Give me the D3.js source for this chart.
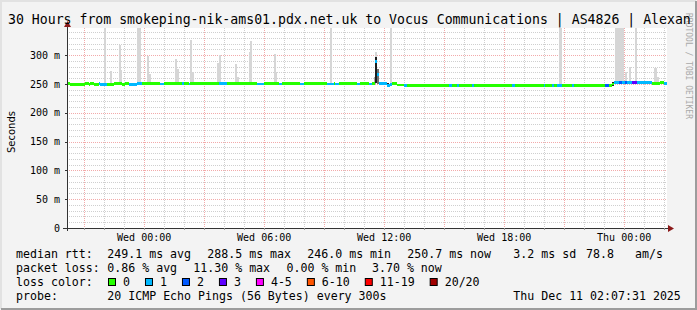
<!DOCTYPE html>
<html>
<head>
<meta charset="utf-8">
<script src="https://cdnjs.cloudflare.com/ajax/libs/d3/7.8.5/d3.min.js"></script>
<style>
body { margin: 0; background: #f3f3f3; }
svg { display: block; }
</style>
</head>
<body>
<svg class="smoke-chart"></svg>
<script>
var startTime = new Date(2025, 11, 9, 20, 10);
var endTime = new Date(2025, 11, 11, 2, 10);
var stepMinutes = 5;

// median rtt: [minutes after start, median ms, lost pings]
var medianRuns = [
	[0, 251, 0], [10, 249.5, 0], [55, 251, 0], [65, 249.5, 0], [70, 251, 0], [80, 249.5, 0],
	[95, 251, 1], [100, 249.5, 1], [120, 249.5, 0], [140, 251, 0], [165, 249.5, 0], [175, 251, 0],
	[185, 249.5, 1], [210, 251, 1], [225, 251, 0], [280, 250, 1], [290, 250.5, 0], [345, 250.5, 1],
	[350, 250.5, 0], [365, 250, 1], [370, 250.5, 0], [455, 250.5, 1], [480, 250.5, 0], [570, 250, 1],
	[590, 250.5, 0], [635, 250, 1], [645, 250.5, 0], [700, 250, 1], [710, 250.5, 0], [780, 250, 1],
	[800, 250.5, 0], [805, 250, 1], [815, 250.5, 0], [870, 250, 1], [880, 250.5, 0], [905, 250, 1],
	[915, 250.5, 0], [925, 288.5, 1], [930, 266, 1], [935, 250.5, 1], [960, 247.5, 1], [970, 249, 1],
	[975, 251, 0], [990, 248, 0], [1010, 246.8, 1], [1020, 246.8, 0], [1145, 246.8, 1], [1155, 246.8, 0],
	[1170, 246.8, 1], [1175, 246.8, 0], [1215, 246.8, 1], [1220, 246.8, 0], [1335, 246.8, 1], [1345, 246.8, 0],
	[1430, 246.8, 1], [1435, 246.8, 0], [1455, 246.8, 1], [1460, 246.8, 0], [1470, 246.8, 1], [1485, 246.8, 0],
	[1515, 246.8, 1], [1520, 246.8, 0], [1615, 246.8, 2], [1625, 246.8, 0], [1635, 250, 0], [1640, 252.5, 1],
	[1655, 252.5, 2], [1665, 252.5, 1], [1675, 252.5, 2], [1680, 252.5, 1], [1695, 252.5, 3], [1710, 252.5, 1],
	[1755, 250.5, 0], [1780, 252, 0], [1790, 251, 1]
];

// outlying pings (light smoke): minutes after start, highest ping ms
var smokeMinutes = [110, 130, 155, 160, 210, 215, 240, 245, 325, 330, 370, 375, 450, 455, 505, 510,
	545, 550, 620, 625, 790, 925, 970, 1475, 1480, 1645, 1650, 1655, 1660, 1665, 1675, 1685, 1705,
	1760, 1765, 1770];
var smokeTops = [400, 272, 317, 274, 400, 400, 298, 268, 293, 276, 326, 270, 286, 300, 284, 262,
	305, 324, 302, 270, 400, 306, 400, 400, 400, 400, 400, 400, 400, 400, 270, 279, 400,
	277, 277, 262];

// dense smoke: [minutes after start, low ms, high ms, density 1..3]
var denseSmoke = [[920, 250, 262, 1], [930, 250, 276, 2], [925, 252, 296, 3], [960, 246, 251, 3], [1635, 246.8, 252.5, 3]];

var yTicks = [0, 50, 100, 150, 200, 250, 300];
var yTickLabels = ["0", "50 m", "100 m", "150 m", "200 m", "250 m", "300 m"];

var titleText = "30 Hours from smokeping-nik-ams01.pdx.net.uk to Vocus Communications | AS4826 | Alexan";
var rttStats = ["249.1 ms avg", "288.5 ms max", "246.0 ms min", "250.7 ms now", "3.2 ms sd", "78.8", "am/s"];
var lossStats = ["0.86 % avg", "11.30 % max", "0.00 % min", "3.70 % now"];
var lossLabels = ["0", "1", "2", "3", "4-5", "6-10", "11-19", "20/20"];
var lossLevels = [0, 1, 2, 3, 4, 6, 11, 20];
var probeText = "20 ICMP Echo Pings (56 Bytes) every 300s";
var stampText = "Thu Dec 11 02:07:31 2025";

var lossColor = d3.scaleThreshold()
	.domain([1, 2, 3, 4, 6, 11, 20])
	.range(["#26ff00", "#00b8ff", "#0059ff", "#5e00ff", "#ff00ff", "#ff5500", "#ff0000", "#a10000"]);
var smokeColor = ["#d6d6d6", "#a8a8a8", "#707070", "#1e1e1e"];

function minutesToDate(m) {
	return new Date(startTime.getTime() + m * 60000);
}

function medianAt(m) {
	var v = medianRuns[0][1];
	for (var i = 0; i < medianRuns.length; i++) {
		if (medianRuns[i][0] <= m) v = medianRuns[i][1];
	}
	return v;
}

function drawChart() {
	var svgWidth = 697, svgHeight = 310;
	var mono = "DejaVu Sans Mono";
	var left = 67, right = 667, top = 28, bottom = 228;

	var svg = d3.select(".smoke-chart")
	.attr("width", svgWidth)
	.attr("height", svgHeight);

	// frame
	svg.append("rect").attr("width", svgWidth).attr("height", svgHeight).attr("fill", "#f3f3f3");
	svg.append("path").attr("d", "M1,309V1H696").attr("fill", "none").attr("stroke", "#e2e2e2").attr("stroke-width", 2);
	svg.append("path").attr("d", "M1,309H696V1").attr("fill", "none").attr("stroke", "#9c9c9c").attr("stroke-width", 2);

	var x = d3.scaleTime()
	.domain([startTime, endTime])
	.range([left, right]);

	var y = d3.scaleLinear()
	.domain([0, 347])
	.range([bottom, top]);

	svg.append("rect")
	.attr("x", left).attr("y", top)
	.attr("width", right - left).attr("height", bottom - top)
	.attr("fill", "#fff");

	svg.append("clipPath").attr("id", "plot-clip")
	.append("rect")
	.attr("x", left).attr("y", top)
	.attr("width", right - left).attr("height", bottom - top);

	// grid
	var grid = svg.append("g").attr("stroke-dasharray", "1,1");
	var minorY = d3.range(10, 350, 10).filter(function(v) { return v % 50 != 0 });
	var majorY = d3.range(50, 350, 50);
	var hours = d3.timeHour.range(startTime, endTime);
	grid.selectAll(".minor-y").data(minorY).enter().append("line")
	.attr("x1", left).attr("x2", right)
	.attr("y1", function(d) { return Math.round(y(d)) + 0.5 })
	.attr("y2", function(d) { return Math.round(y(d)) + 0.5 })
	.attr("stroke", "#cfcfcf");
	grid.selectAll(".minor-x").data(hours.filter(function(d) { return d.getHours() % 3 != 0 })).enter().append("line")
	.attr("x1", function(d) { return Math.round(x(d)) + 0.5 })
	.attr("x2", function(d) { return Math.round(x(d)) + 0.5 })
	.attr("y1", top).attr("y2", bottom)
	.attr("stroke", "#cfcfcf");
	grid.selectAll(".major-y").data(majorY).enter().append("line")
	.attr("x1", left).attr("x2", right)
	.attr("y1", function(d) { return Math.round(y(d)) + 0.5 })
	.attr("y2", function(d) { return Math.round(y(d)) + 0.5 })
	.attr("stroke", "#f2aaaa");
	grid.selectAll(".major-x").data(hours.filter(function(d) { return d.getHours() % 3 == 0 })).enter().append("line")
	.attr("x1", function(d) { return Math.round(x(d)) + 0.5 })
	.attr("x2", function(d) { return Math.round(x(d)) + 0.5 })
	.attr("y1", top).attr("y2", bottom)
	.attr("stroke", "#f2aaaa");

	var plot = svg.append("g").attr("clip-path", "url(#plot-clip)").attr("shape-rendering", "crispEdges");
	var stepW = x(minutesToDate(stepMinutes)) - x(startTime);

	// light smoke
	var smoke = smokeMinutes.map(function(m, i) { return { m: m, top: smokeTops[i] } });
	plot.selectAll(".smoke").data(smoke).enter().append("rect")
	.attr("x", function(d) { return x(minutesToDate(d.m)) })
	.attr("width", stepW + 0.4)
	.attr("y", function(d) { return y(d.top) })
	.attr("height", function(d) { return y(medianAt(d.m)) - y(d.top) })
	.attr("fill", smokeColor[0]);

	plot.selectAll(".dense").data(denseSmoke).enter().append("rect")
	.attr("x", function(d) { return x(minutesToDate(d[0])) })
	.attr("width", stepW + 0.4)
	.attr("y", function(d) { return y(d[2]) })
	.attr("height", function(d) { return y(d[1]) - y(d[2]) })
	.attr("fill", function(d) { return smokeColor[d[3]] });

	// median line coloured by loss
	plot.selectAll(".median").data(medianRuns).enter().append("rect")
	.attr("x", function(d) { return x(minutesToDate(d[0])) })
	.attr("width", function(d, i) {
		var next = i + 1 < medianRuns.length ? medianRuns[i + 1][0] : 1800;
		return x(minutesToDate(next)) - x(minutesToDate(d[0]));
	})
	.attr("y", function(d) { return y(d[1]) - 1.4 })
	.attr("height", 2.8)
	.attr("fill", function(d) { return lossColor(d[2]) });

	// axes
	var ax = svg.append("g").attr("stroke", "#333");
	ax.append("line").attr("x1", left - 4).attr("x2", right + 2).attr("y1", bottom + 0.5).attr("y2", bottom + 0.5);
	ax.append("line").attr("x1", left + 0.5).attr("x2", left + 0.5).attr("y1", bottom + 3).attr("y2", top - 4);
	svg.append("path").attr("d", "M" + (right + 1) + "," + (bottom - 3) + "l6,3.5l-6,3.5z").attr("fill", "#8b1a1a");
	svg.append("path").attr("d", "M" + (left - 3) + "," + (top - 1) + "l3.5,-6l3.5,6z").attr("fill", "#8b1a1a");
	ax.selectAll(".tx").data(hours).enter().append("line")
	.attr("x1", function(d) { return Math.round(x(d)) + 0.5 })
	.attr("x2", function(d) { return Math.round(x(d)) + 0.5 })
	.attr("y1", bottom).attr("y2", bottom + 2).attr("stroke", "#999");
	ax.selectAll(".ty").data(yTicks).enter().append("line")
	.attr("x1", left - 2).attr("x2", left)
	.attr("y1", function(d) { return Math.round(y(d)) + 0.5 })
	.attr("y2", function(d) { return Math.round(y(d)) + 0.5 });

	var xAxis = svg.append("g")
	.attr("transform", "translate(0," + bottom + ")")
	.call(d3.axisBottom(x).ticks(d3.timeHour.every(6)).tickSize(0).tickPadding(5.5).tickFormat(d3.timeFormat("%a %H:%M")));
	xAxis.select(".domain").remove();
	xAxis.selectAll("text").attr("font-family", mono).attr("font-size", 10).attr("fill", "#000");

	var yAxis = svg.append("g")
	.attr("transform", "translate(" + left + ",0)")
	.call(d3.axisLeft(y).tickValues(yTicks).tickSize(0).tickPadding(7).tickFormat(function(d, i) { return yTickLabels[i] }));
	yAxis.select(".domain").remove();
	yAxis.selectAll("text").attr("font-family", mono).attr("font-size", 10).attr("fill", "#000");

	svg.append("text")
	.attr("transform", "translate(15,132) rotate(-90)")
	.attr("text-anchor", "middle")
	.attr("font-family", "DejaVu Sans").attr("font-size", 10)
	.text("Seconds");

	// watermark
	svg.append("text")
	.attr("transform", "translate(685.5,13) rotate(90)")
	.attr("font-family", mono).attr("font-size", 8)
	.attr("fill", "#a9a9a9")
	.text("RRDTOOL / TOBI OETIKER");

	svg.append("text")
	.attr("x", 8).attr("y", 23.5)
	.attr("font-family", mono).attr("font-size", 13.2)
	.text(titleText);

	// legend
	var lg = svg.append("g").attr("font-family", mono).attr("font-size", 11.6).attr("fill", "#000");
	var rows = [257.5, 271.5, 285.5, 299.5];
	function put(tx, row, s) {
		lg.append("text").attr("x", tx).attr("y", rows[row]).attr("xml:space", "preserve").text(s);
	}
	put(16, 0, "median rtt:");
	var rttX = [107.3, 207.3, 307.3, 407.3, 513.3, 586, 635];
	rttStats.forEach(function(s, i) { put(rttX[i], 0, s) });
	put(16, 1, "packet loss:");
	var lossX = [107.3, 193.3, 286.5, 372];
	lossStats.forEach(function(s, i) { put(lossX[i], 1, s) });
	put(16, 2, "loss color:");
	var bx = 108;
	lossLabels.forEach(function(s, i) {
		lg.append("rect")
		.attr("x", bx + 0.5).attr("y", 278.5).attr("width", 7).attr("height", 7)
		.attr("fill", lossColor(lossLevels[i])).attr("stroke", "#000");
		put(bx + 15, 2, s);
		bx = bx + 15 + s.length * 6.98 + 15;
	});
	put(16, 3, "probe:");
	put(107.3, 3, probeText);
	put(513.3, 3, stampText);
}

drawChart();
</script>
</body>
</html>
